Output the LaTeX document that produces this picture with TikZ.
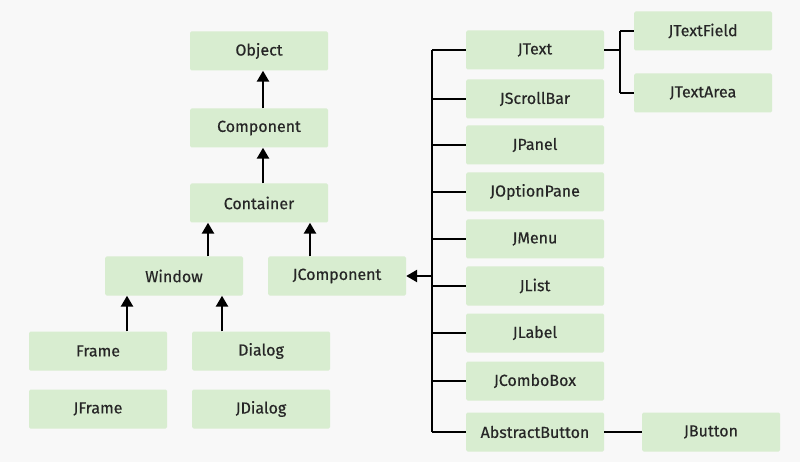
\documentclass[tikz,border=0pt]{standalone}
\usepackage{fontspec}
\setmainfont{Fira Sans}
\usetikzlibrary{arrows.meta}
\definecolor{bx}{HTML}{D8EDD0}
\definecolor{bg}{HTML}{F8F8F8}
\begin{document}
\begin{tikzpicture}[x=1pt,y=-1pt,
 box/.style={fill=bx,rounded corners=1.5pt,minimum width=138pt,minimum height=39pt,inner sep=0pt,font=\fontsize{16}{18}\selectfont\addfontfeatures{FakeBold=0.4},text=black!85},
 ar/.style={-{Triangle[length=11pt,width=12pt]},line width=2.5pt},
 ln/.style={line width=1.3pt}]
\fill[bg] (0,0) rectangle (800,462);
\node[box] (obj) at (259,51) {Object};
\node[box] (comp) at (259,128) {Component};
\node[box] (cont) at (259,203) {Container};
\node[box] (win) at (174,276) {Window};
\node[box] (jc) at (337,276) {JComponent};
\node[box] (fr) at (98,351) {Frame};
\node[box] (dl) at (261,351) {Dialog};
\node[box] (jf) at (98,409) {JFrame};
\node[box] (jd) at (261,409) {JDialog};
\foreach \n/\t/\y in {jt/JText/50,jsb/JScrollBar/99,jp/JPanel/145,jop/JOptionPane/192,jm/JMenu/239,jl/JList/286,jlb/JLabel/333,jcb/JComboBox/381,ab/AbstractButton/432}
  \node[box] (\n) at (535,\y) {\t};
\node[box] (jtf) at (703,31) {JTextField};
\node[box] (jta) at (703,93) {JTextArea};
\node[box] (jb) at (711,432) {JButton};
\draw[ar] (comp.north -| 263,0) -- (obj.south -| 263,0);
\draw[ar] (cont.north -| 263,0) -- (comp.south -| 263,0);
\draw[ar] (win.north -| 208,0) -- (cont.south -| 208,0);
\draw[ar] (jc.north -| 310,0) -- (cont.south -| 310,0);
\draw[ar] (fr.north -| 127,0) -- (win.south -| 127,0);
\draw[ar] (dl.north -| 222,0) -- (win.south -| 222,0);
\coordinate (t1) at (432,50);
\coordinate (t2) at (432,432);
\coordinate (tj) at (432,276);
\draw[ln] (t1) -- (t2);
\foreach \n in {jt,jsb,jp,jop,jm,jl,jlb,jcb,ab} \draw[ln] (\n.west -| t1) -- (\n.west);
\draw[ar] (tj) -- (jc.east);
\coordinate (u1) at (620,31);
\coordinate (u2) at (620,93);
\draw[ln] (jt.east) -- (jt.east -| u1);
\draw[ln] (u1) -- (u2);
\draw[ln] (u1) -- (jtf.west);
\draw[ln] (u2) -- (jta.west);
\draw[ln] (ab.east) -- (jb.west);
\end{tikzpicture}
\end{document}
